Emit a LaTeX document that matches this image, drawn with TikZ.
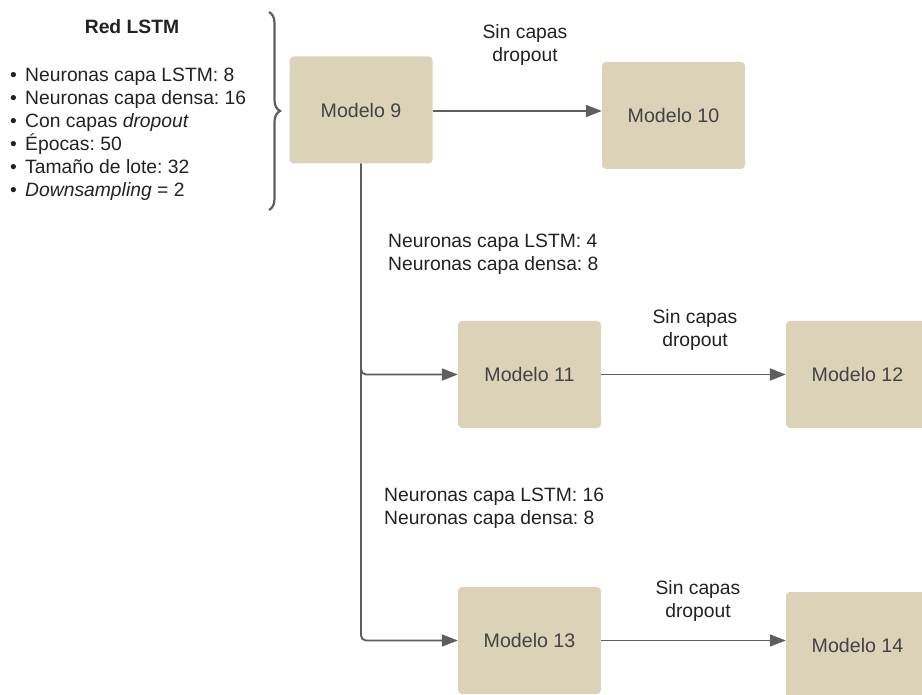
\documentclass[tikz,border=0pt]{standalone}
\usepackage{fontspec}
\setmainfont{Liberation Sans}
\usetikzlibrary{arrows.meta,decorations.pathreplacing}
\definecolor{boxfill}{HTML}{DAD3B8}
\definecolor{linegray}{HTML}{5E5E5E}
\definecolor{txt}{HTML}{222222}
\tikzset{
  modelbox/.style={fill=boxfill, draw=none, rounded corners=4pt, minimum width=143pt, minimum height=107pt, inner sep=0pt, text=txt!85!white, font=\fontsize{19.6}{23}\selectfont},
  conn/.style={draw=linegray, line width=1.9pt, -{Triangle[length=16pt,width=12pt]}},
  lbl/.style={text=txt, font=\frenchspacing\fontsize{19.3}{23}\selectfont, inner sep=0pt},
}
\newcommand{\itm}{\makebox[15pt][l]{•}}
\begin{document}
\begin{tikzpicture}[x=1pt,y=-1pt]
\useasboundingbox (0,0) rectangle (922,695);
% boxes
\node[modelbox] (m9) at (361,110) {Modelo 9};
\node[modelbox] (m10) at (673.5,115.5) {Modelo 10};
\node[modelbox] (m11) at (529.5,374.5) {Modelo 11};
\node[modelbox] (m12) at (857.5,374.5) {Modelo 12};
\node[modelbox] (m13) at (529.5,640.5) {Modelo 13};
\node[modelbox] (m14) at (857.5,645.5) {Modelo 14};
% connectors
\draw[conn] ([yshift=-1pt]m9.east) -- ([yshift=-1pt]m9.east -| m10.west);
\draw[conn] (m11.east) -- (m12.west);
\draw[conn] (m13.east) -- (m13.east -| m14.west);
\draw[conn, rounded corners=5pt] (m9.south) |- (m11.west);
\draw[conn, rounded corners=5pt] (m9.south) |- (m13.west);
% labels
\node[lbl, align=center] (l1) at (525,45) {Sin capas\\dropout};
\node[lbl, align=left, anchor=west] (l2) at (388,254.5) {Neuronas capa LSTM: 4\\Neuronas capa densa: 8};
\node[lbl, align=center] (l3) at (695,330) {Sin capas\\dropout};
\node[lbl, align=left, anchor=west] (l4) at (384,508) {Neuronas capa LSTM: 16\\Neuronas capa densa: 8};
\node[lbl, align=center] (l5) at (698,601) {Sin capas\\dropout};
% left description
\node[lbl, font=\bfseries\fontsize{19.3}{23}\selectfont] (title) at (132,27) {Red LSTM};
\node[lbl, align=left, anchor=north west] (list) at (10,68) {%
\itm Neuronas capa LSTM: 8\\
\itm Neuronas capa densa: 16\\
\itm Con capas \textit{dropout}\\
\itm Épocas: 50\\
\itm Tamaño de lote: 32\\
\itm \textit{Downsampling} = 2};
% brace
\coordinate (bt) at (269,12);
\coordinate (bb) at (269,210);
\draw[linegray, line width=2.2pt, decoration={brace, amplitude=11pt}, decorate] (bt) -- (bb);
\end{tikzpicture}
\end{document}
